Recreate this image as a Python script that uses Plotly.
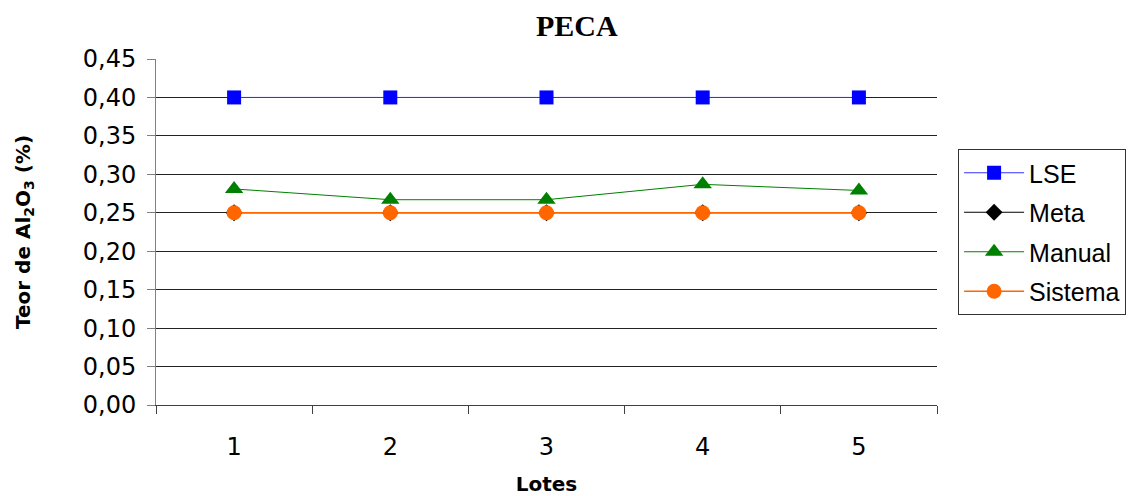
import plotly.graph_objects as go

# Lot numbers and Al2O3 content series (%)
lotes = [1, 2, 3, 4, 5]
lse = [0.40, 0.40, 0.40, 0.40, 0.40]
meta = [0.25, 0.25, 0.25, 0.25, 0.25]
manual = [0.281, 0.267, 0.267, 0.287, 0.279]
sistema = [0.25, 0.25, 0.25, 0.25, 0.25]

y_ticks = [0.00, 0.05, 0.10, 0.15, 0.20, 0.25, 0.30, 0.35, 0.40, 0.45]

fig = go.Figure()
fig.add_trace(go.Scatter(
    x=lotes, y=lse, name="LSE", mode="lines+markers",
    line=dict(color="#3333ff", width=1),
    marker=dict(symbol="square", size=14, color="#0000ff"),
    legendgroup="a"))
fig.add_trace(go.Scatter(
    x=lotes, y=meta, name="Meta", mode="lines+markers",
    line=dict(color="#000000", width=1),
    marker=dict(symbol="diamond", size=13, color="#000000"),
    legendgroup="b"))
fig.add_trace(go.Scatter(
    x=lotes, y=manual, name="Manual", mode="lines+markers",
    line=dict(color="#008000", width=1),
    marker=dict(symbol="triangle-up", size=16, color="#008000"),
    legendgroup="c"))
fig.add_trace(go.Scatter(
    x=lotes, y=sistema, name="Sistema", mode="lines+markers",
    line=dict(color="#ff6600", width=1.5),
    marker=dict(symbol="circle", size=15, color="#ff6600"),
    legendgroup="d"))

fig.update_layout(
    width=1131, height=496,
    margin=dict(l=156, r=194, t=59, b=91, autoexpand=False),
    paper_bgcolor="white", plot_bgcolor="white",
    separators=",.",
    font=dict(family="DejaVu Sans", color="black"),
    showlegend=True,
    legend=dict(
        x=1.027, xanchor="left", y=0.5, yanchor="middle",
        bordercolor="#333333", borderwidth=1,
        font=dict(family="Liberation Sans", size=25),
        itemwidth=60, tracegroupgap=4,
    ),
    annotations=[dict(
        text="<b>PECA</b>", x=0.539, y=1 + (59 - 25) / 346,
        xref="paper", yref="paper", yanchor="middle",
        showarrow=False, font=dict(family="Liberation Serif", size=30),
    )],
)

fig.update_xaxes(
    range=[0.5, 5.5], tickvals=lotes, ticktext=[str(v) for v in lotes],
    ticks="", showgrid=False, showline=True, linecolor="#404040", linewidth=1,
    tickfont=dict(size=24), ticklabelstandoff=20, automargin=False,
    minor=dict(tick0=0.5, dtick=1, ticks="outside", ticklen=8,
               tickcolor="#404040", showgrid=False),
    title=dict(text="<b>Lotes</b>", font=dict(size=20), standoff=18),
    zeroline=False,
)
fig.update_yaxes(
    range=[0, 0.45], tickvals=y_ticks, tickformat=".2f",
    ticks="outside", ticklen=8, tickcolor="#808080",
    showline=True, linecolor="#808080", linewidth=1,
    showgrid=True, gridcolor="#222222", gridwidth=1,
    tickfont=dict(size=24), ticklabelstandoff=6, automargin=False,
    title=dict(text="<b>Teor de Al<sub>2</sub>O<sub>3</sub> (%)</b>",
               font=dict(size=20), standoff=46),
    zeroline=False,
)

fig.write_html("out.html")
